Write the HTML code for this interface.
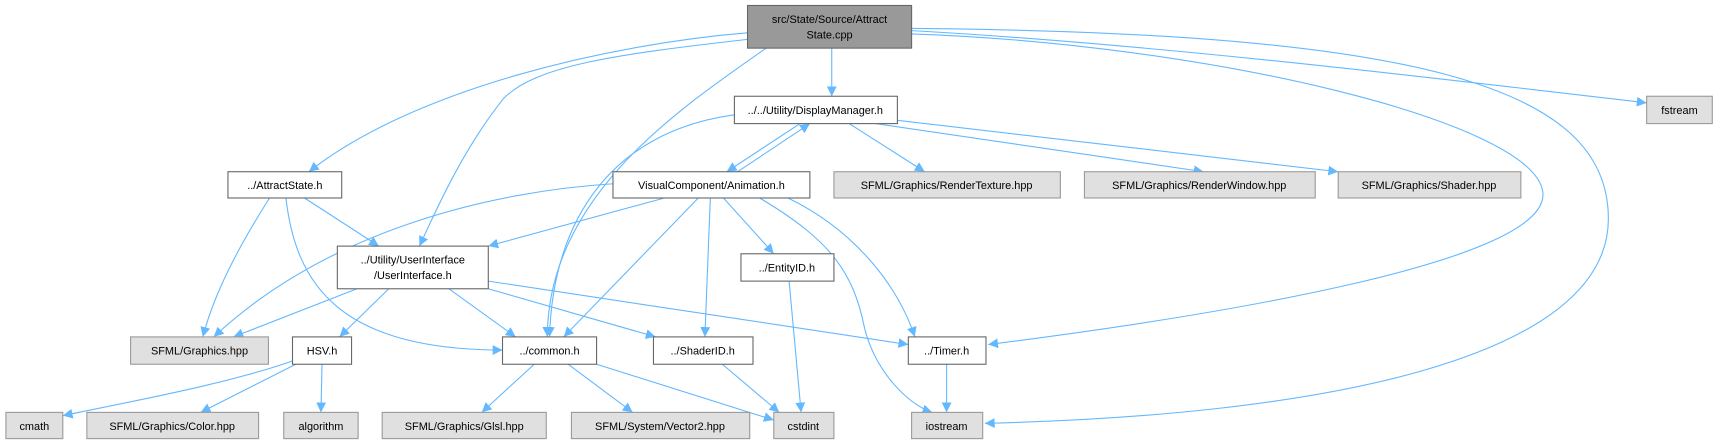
<!DOCTYPE html>
<html><head><meta charset="utf-8"><style>
html,body{margin:0;padding:0;background:#fff;}
svg{display:block;}
text{font-family:"Liberation Sans",sans-serif;font-size:10px;fill:#000;text-anchor:middle;}
.e{fill:none;stroke:#63b8ff;stroke-width:1;marker-end:url(#a);}
.w{fill:#fff;stroke:#666;stroke-width:1;}
.g{fill:#e0e0e0;stroke:#999;stroke-width:1;}
.m{fill:#999;stroke:#666;stroke-width:1;}
</style></head><body>
<svg width="1716" height="443" viewBox="0 0 1568 405" xmlns="http://www.w3.org/2000/svg">
<defs><marker id="a" viewBox="0 0 10 10" refX="10" refY="5" markerWidth="9" markerHeight="9" markerUnits="userSpaceOnUse" orient="auto"><path d="M0,0 L10,5 L0,10 z" fill="#63b8ff"/></marker></defs>
<path class="e" d="M683,30 C560,40 380,80 282,157"/>
<path class="e" d="M683,36 C560,50 490,60 460,90 C420,140 395,200 383,225"/>
<path class="e" d="M700,44 C620,100 500,180 500,308"/>
<path class="e" d="M760,44 L760,88"/>
<path class="e" d="M833,28 C1050,40 1300,70 1505,94"/>
<path class="e" d="M833,31 C1100,40 1400,110 1410,175 C1420,240 1100,290 903,315"/>
<path class="e" d="M833,26 C1300,30 1470,80 1470,200 C1470,330 1200,380 900,387"/>
<path class="e" d="M671,105 C560,120 505,200 502,308"/>
<path class="e" d="M731,113 L664,157"/>
<path class="e" d="M674,157 L740,113"/>
<path class="e" d="M776,113 L845,157"/>
<path class="e" d="M800,113 L1100,157"/>
<path class="e" d="M820,110 L1223,157"/>
<path class="e" d="M246,181 C215,230 195,270 185,308"/>
<path class="e" d="M261,181 C270,260 310,320 459,320"/>
<path class="e" d="M278,181 L346,225"/>
<path class="e" d="M560,168 C450,175 300,210 195,308"/>
<path class="e" d="M607,181 L446,225"/>
<path class="e" d="M638,181 L515,308"/>
<path class="e" d="M649,181 L644,308"/>
<path class="e" d="M661,181 L707,232"/>
<path class="e" d="M720,181 C780,210 820,260 836,308"/>
<path class="e" d="M694,181 C760,220 780,250 790,300 C800,340 830,370 852,377"/>
<path class="e" d="M326,264 L213,308"/>
<path class="e" d="M355,264 L310,308"/>
<path class="e" d="M410,264 L471,308"/>
<path class="e" d="M446,264 L599,308"/>
<path class="e" d="M446,257 L830,315"/>
<path class="e" d="M267,330 C210,350 130,365 57,380"/>
<path class="e" d="M270,333 L183,377"/>
<path class="e" d="M294,333 L293,377"/>
<path class="e" d="M488,333 L440,377"/>
<path class="e" d="M519,333 L578,377"/>
<path class="e" d="M545,333 L707,384"/>
<path class="e" d="M660,333 L712,377"/>
<path class="e" d="M721,257 L732,377"/>
<path class="e" d="M865,333 L865,377"/>

<rect class="m" x="683" y="5" width="150" height="39"/><text x="758" y="21">src/State/Source/Attract</text><text x="758" y="35">State.cpp</text>
<rect class="w" x="671" y="88" width="149" height="25"/><text x="745" y="104">../../Utility/DisplayManager.h</text>
<rect class="g" x="1505" y="88" width="60" height="25"/><text x="1535" y="104">fstream</text>
<rect class="w" x="208" y="157" width="104" height="24"/><text x="260" y="173">../AttractState.h</text>
<rect class="w" x="560" y="157" width="180" height="24"/><text x="650" y="173">VisualComponent/Animation.h</text>
<rect class="g" x="762" y="157" width="207" height="24"/><text x="865" y="173">SFML/Graphics/RenderTexture.hpp</text>
<rect class="g" x="991" y="157" width="211" height="24"/><text x="1096" y="173">SFML/Graphics/RenderWindow.hpp</text>
<rect class="g" x="1223" y="157" width="167" height="24"/><text x="1306" y="173">SFML/Graphics/Shader.hpp</text>
<rect class="w" x="308" y="225" width="138" height="39"/><text x="377" y="241">../Utility/UserInterface</text><text x="377" y="255">/UserInterface.h</text>
<rect class="w" x="677" y="232" width="85" height="25"/><text x="719" y="248">../EntityID.h</text>
<rect class="g" x="119" y="308" width="126" height="25"/><text x="182" y="324">SFML/Graphics.hpp</text>
<rect class="w" x="267" y="308" width="54" height="25"/><text x="294" y="324">HSV.h</text>
<rect class="w" x="459" y="308" width="86" height="25"/><text x="502" y="324">../common.h</text>
<rect class="w" x="597" y="308" width="91" height="25"/><text x="642" y="324">../ShaderID.h</text>
<rect class="w" x="830" y="308" width="71" height="25"/><text x="865" y="324">../Timer.h</text>
<rect class="g" x="5" y="377" width="52" height="24"/><text x="31" y="393">cmath</text>
<rect class="g" x="79" y="377" width="157" height="24"/><text x="157" y="393">SFML/Graphics/Color.hpp</text>
<rect class="g" x="259" y="377" width="68" height="24"/><text x="293" y="393">algorithm</text>
<rect class="g" x="349" y="377" width="150" height="24"/><text x="424" y="393">SFML/Graphics/Glsl.hpp</text>
<rect class="g" x="522" y="377" width="163" height="24"/><text x="603" y="393">SFML/System/Vector2.hpp</text>
<rect class="g" x="707" y="377" width="55" height="24"/><text x="734" y="393">cstdint</text>
<rect class="g" x="833" y="377" width="65" height="24"/><text x="865" y="393">iostream</text>
</svg>
</body></html>
